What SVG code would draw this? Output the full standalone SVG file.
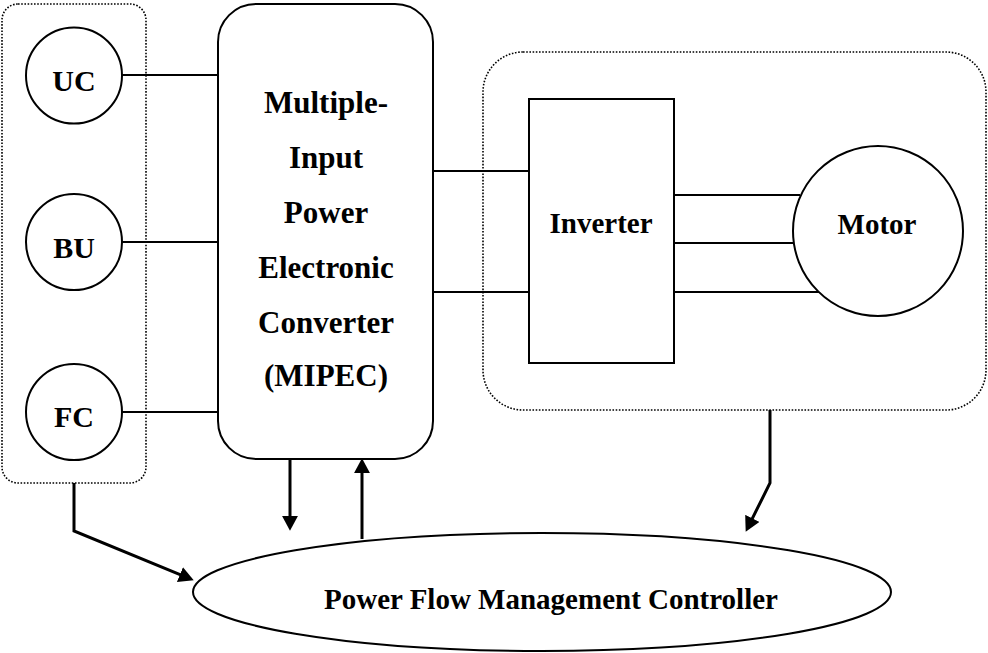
<svg xmlns="http://www.w3.org/2000/svg" width="988" height="653" viewBox="0 0 988 653">
<style>
.s{fill:#fff;stroke:#000;stroke-width:2}
.dot{fill:none;stroke:#000;stroke-width:1.6;stroke-dasharray:1.6 1.6}
.ln{fill:none;stroke:#000;stroke-width:2}
.ar{fill:none;stroke:#000;stroke-width:3}
.t{font-family:"Liberation Serif","Times New Roman",serif;font-weight:bold;font-size:30px;text-anchor:middle;fill:#000}
</style>
<defs>
<marker id="ah" markerUnits="userSpaceOnUse" markerWidth="16" markerHeight="16" refX="2" refY="7.5" orient="auto" viewBox="0 0 15 15">
<path d="M0,0 L14,7.5 L0,15 z" fill="#000"/>
</marker>
</defs>
<g id="sources-group"><rect class="dot" x="2" y="4" width="144" height="479" rx="16"/></g>
<g id="drive-group"><rect class="dot" x="483" y="52" width="503" height="358" rx="40"/></g>
<g id="connectors">
<line class="ln" x1="122" y1="75" x2="218" y2="75"/>
<line class="ln" x1="122" y1="242" x2="218" y2="242"/>
<line class="ln" x1="122" y1="412" x2="218" y2="412"/>
<line class="ln" x1="433" y1="171" x2="529" y2="171"/>
<line class="ln" x1="433" y1="292" x2="529" y2="292"/>
<line class="ln" x1="674" y1="195" x2="800" y2="195"/>
<line class="ln" x1="674" y1="243" x2="795" y2="243"/>
<line class="ln" x1="674" y1="292" x2="822" y2="292"/>
<line class="ar" x1="290" y1="459" x2="290" y2="518" marker-end="url(#ah)"/>
<line class="ar" x1="362" y1="539" x2="362" y2="471" marker-end="url(#ah)"/>
<polyline class="ar" points="74,483 74,531 181.9,575.4" marker-end="url(#ah)"/>
<polyline class="ar" points="770,410 770,483 751.4,520.3" marker-end="url(#ah)"/>
</g>
<g id="uc"><circle class="s" cx="74" cy="75.5" r="48"/><text class="t" x="74" y="91">UC</text></g>
<g id="bu"><circle class="s" cx="74" cy="242" r="48"/><text class="t" x="74" y="258">BU</text></g>
<g id="fc"><circle class="s" cx="74" cy="412" r="48"/><text class="t" x="74" y="427">FC</text></g>
<g id="mipec"><rect class="s" x="218" y="4" width="215" height="455" rx="38"/>
<text class="t" x="326" y="113" style="font-size:31px">Multiple-</text>
<text class="t" x="326" y="168" style="font-size:31px">Input</text>
<text class="t" x="326" y="223" style="font-size:31px">Power</text>
<text class="t" x="326" y="278" style="font-size:31px">Electronic</text>
<text class="t" x="326" y="333" style="font-size:31px">Converter</text>
<text class="t" x="326" y="386" style="font-size:31px">(MIPEC)</text>
</g>
<g id="inverter"><rect class="s" x="529" y="99" width="145" height="264"/><text class="t" x="601" y="233" style="font-size:29px">Inverter</text></g>
<g id="motor"><circle class="s" cx="878" cy="231" r="85"/><text class="t" x="877" y="234" style="font-size:29px">Motor</text></g>
<g id="controller"><ellipse class="s" cx="542" cy="592" rx="349" ry="59"/><text class="t" x="551" y="609" style="font-size:29px">Power Flow Management Controller</text></g>
</svg>
